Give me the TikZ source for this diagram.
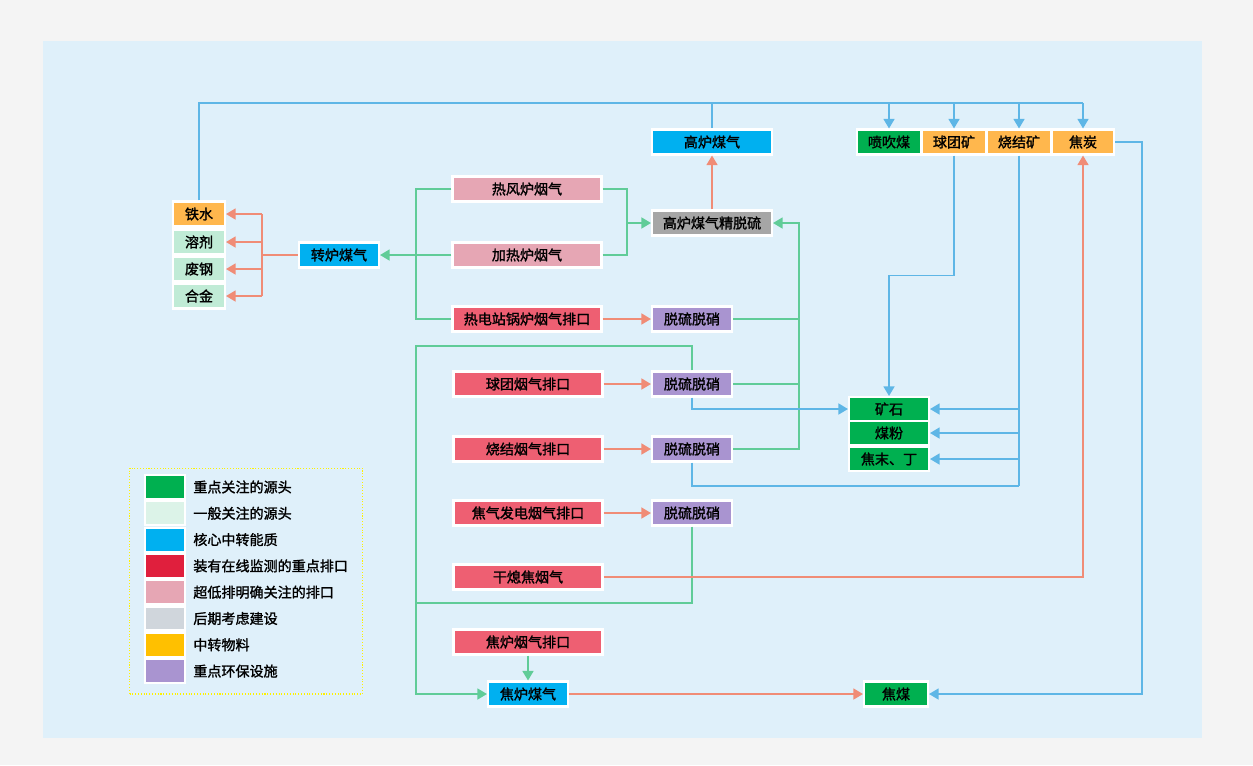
\documentclass[tikz,border=0pt]{standalone}
\usepackage{fontspec}
\setmainfont{Noto Sans CJK SC}[AutoFakeBold=1.5]
\usepackage{xcolor}
\usepackage{tikz}
\usetikzlibrary{arrows.meta,positioning,calc}
\definecolor{pagegray}{RGB}{244,244,244}
\definecolor{panelblue}{RGB}{223,240,250}
\definecolor{keygreen}{RGB}{0,176,80}
\definecolor{mintgreen}{RGB}{192,235,214}
\definecolor{palemint}{RGB}{220,243,232}
\definecolor{corebl}{RGB}{0,176,240}
\definecolor{monred}{RGB}{238,95,114}
\definecolor{legendred}{RGB}{224,31,61}
\definecolor{lowpink}{RGB}{230,166,180}
\definecolor{futuregray}{RGB}{166,166,166}
\definecolor{legendgray}{RGB}{208,214,220}
\definecolor{transorange}{RGB}{255,183,77}
\definecolor{legendorange}{RGB}{255,192,0}
\definecolor{envpurple}{RGB}{169,148,208}
\definecolor{lineblue}{RGB}{94,182,230}
\definecolor{linegreen}{RGB}{96,204,152}
\definecolor{linesalmon}{RGB}{240,140,118}
\tikzset{
    flowbox/.style={
        rectangle,
        draw=white,
        line width=1.2pt,
        minimum height=0.5cm,
        inner sep=0pt,
        text centered,
        font=\bfseries\fontsize{8}{9}\selectfont
    },
    bluepipe/.style={draw=lineblue, line width=0.8pt},
    greenpipe/.style={draw=linegreen, line width=0.8pt},
    salmonpipe/.style={draw=linesalmon, line width=0.8pt},
    flowarrow/.style={-{Triangle[length=1.9mm,width=2.2mm]}}
}

\begin{document}
\begin{tikzpicture}[x=0.02cm, y=-0.02cm]
% background
\fill[pagegray] (0,0) rectangle (1253,765);
\fill[panelblue] (43,41) rectangle (1202,738);

% raw materials on the left
\node[flowbox, fill=transorange, minimum width=1.04cm] (iron) at (199,214) {铁水};
\node[flowbox, fill=mintgreen, minimum width=1.04cm] (flux) at (199,242) {溶剂};
\node[flowbox, fill=mintgreen, minimum width=1.04cm] (scrap) at (199,269) {废钢};
\node[flowbox, fill=mintgreen, minimum width=1.04cm] (alloy) at (199,296) {合金};

% converter gas
\node[flowbox, fill=corebl, minimum width=1.6cm] (bofgas) at (339,255) {转炉煤气};

% flue gases
\node[flowbox, fill=lowpink, minimum width=2.98cm] (hotblast) at (527,189) {热风炉烟气};
\node[flowbox, fill=lowpink, minimum width=2.98cm] (reheat) at (527,255) {加热炉烟气};
\node[flowbox, fill=monred, minimum width=2.98cm] (powerplant) at (527,319) {热电站锅炉烟气排口};
\node[flowbox, fill=monred, minimum width=2.98cm] (pelletflue) at (528,384) {球团烟气排口};
\node[flowbox, fill=monred, minimum width=2.98cm] (sinterflue) at (528,449) {烧结烟气排口};
\node[flowbox, fill=monred, minimum width=2.98cm] (cokepowerflue) at (528,513) {焦气发电烟气排口};
\node[flowbox, fill=monred, minimum width=2.98cm] (cdqflue) at (528,577) {干熄焦烟气};
\node[flowbox, fill=monred, minimum width=2.98cm] (cokeovenflue) at (528,642) {焦炉烟气排口};

% blast furnace gas
\node[flowbox, fill=corebl, minimum width=2.4cm] (bfgas) at (712,142) {高炉煤气};
\node[flowbox, fill=futuregray, minimum width=2.4cm] (bfdesulf) at (712,223) {高炉煤气精脱硫};

% desulfurisation units
\node[flowbox, fill=envpurple, minimum width=1.6cm] (dsdn1) at (692,319) {脱硫脱硝};
\node[flowbox, fill=envpurple, minimum width=1.6cm] (dsdn2) at (692,384) {脱硫脱硝};
\node[flowbox, fill=envpurple, minimum width=1.6cm] (dsdn3) at (692,449) {脱硫脱硝};
\node[flowbox, fill=envpurple, minimum width=1.6cm] (dsdn4) at (692,513) {脱硫脱硝};

% furnace charge
\node[flowbox, fill=keygreen, minimum width=1.28cm] (pci) at (889,142) {喷吹煤};
\node[flowbox, fill=transorange, minimum width=1.28cm] (pellet) at (954,142) {球团矿};
\node[flowbox, fill=transorange, minimum width=1.28cm] (sinter) at (1019,142) {烧结矿};
\node[flowbox, fill=transorange, minimum width=1.24cm] (coke) at (1083,142) {焦炭};

% sources
\node[flowbox, fill=keygreen, minimum width=1.6cm, minimum height=0.48cm] (ore) at (889,409) {矿石};
\node[flowbox, fill=keygreen, minimum width=1.6cm, minimum height=0.48cm] (coalpowder) at (889,433) {煤粉};
\node[flowbox, fill=keygreen, minimum width=1.6cm, minimum height=0.48cm] (cokefines) at (889,459) {焦末、丁};

% coke oven gas
\node[flowbox, fill=corebl, minimum width=1.6cm] (cogas) at (528,694) {焦炉煤气};
\node[flowbox, fill=keygreen, minimum width=1.28cm] (cokingcoal) at (896,694) {焦煤};

% helper points
\coordinate (topbus) at (199,103);
\coordinate (gjoin) at (627,223);
\coordinate (lgreen) at (416,255);
\coordinate (lsalmon) at (262,255);
\coordinate (rgreen) at (799,223);
\coordinate (lgreentop) at (416,346);
\coordinate (lgreenlow) at (416,603);
\coordinate (sinterbus) at (1019,486);

% top blue bus
\draw[bluepipe] (iron.north) -- (topbus) -- (coke.north |- topbus);
\draw[bluepipe] (bfgas.north |- topbus) -- (bfgas.north);
\foreach \n in {pci,pellet,sinter,coke}
    \draw[bluepipe, flowarrow] (\n.north |- topbus) -- (\n.north);

% converter gas to raw materials
\draw[salmonpipe] (bofgas.west) -- (lsalmon);
\draw[salmonpipe] (lsalmon |- iron.east) -- (lsalmon |- alloy.east);
\foreach \n in {iron,flux,scrap,alloy}
    \draw[salmonpipe, flowarrow] (lsalmon |- \n.east) -- (\n.east);

% flue gases into converter gas and fine desulfurisation
\draw[greenpipe] (hotblast.west) -| (lgreen) |- (powerplant.west);
\draw[greenpipe, flowarrow] (reheat.west) -- (bofgas.east);
\draw[greenpipe] (hotblast.east) -| (gjoin);
\draw[greenpipe] (reheat.east) -| (gjoin);
\draw[greenpipe, flowarrow] (gjoin) -- (bfdesulf.west);
\draw[salmonpipe, flowarrow] (bfdesulf.north) -- (bfgas.south);

% flue gases into desulfurisation
\draw[salmonpipe, flowarrow] (powerplant.east) -- (dsdn1.west);
\draw[salmonpipe, flowarrow] (pelletflue.east) -- (dsdn2.west);
\draw[salmonpipe, flowarrow] (sinterflue.east) -- (dsdn3.west);
\draw[salmonpipe, flowarrow] (cokepowerflue.east) -- (dsdn4.west);

% desulfurisation back to blast furnace gas
\draw[greenpipe, flowarrow] (dsdn3.east) -| (rgreen) -- (bfdesulf.east);
\draw[greenpipe] (dsdn1.east) -- (rgreen |- dsdn1.east);
\draw[greenpipe] (dsdn2.east) -- (rgreen |- dsdn2.east);

% desulfurisation to coke oven gas
\draw[greenpipe, flowarrow] (dsdn2.north) |- (lgreentop) |- (cogas.west);
\draw[greenpipe] (dsdn4.south) |- (lgreenlow);
\draw[greenpipe, flowarrow] (cokeovenflue.south) -- (cogas.north);
\draw[salmonpipe, flowarrow] (cogas.east) -- (cokingcoal.west);

% sources
\draw[bluepipe, flowarrow] (dsdn2.south) |- (ore.west);
\draw[bluepipe] (dsdn3.south) |- (sinterbus);
\draw[bluepipe] (sinter.south) -- (sinterbus);
\foreach \n in {ore,coalpowder,cokefines}
    \draw[bluepipe, flowarrow] (sinter.south |- \n.east) -- (\n.east);
\draw[bluepipe, flowarrow] (pellet.south) -- ++(0,120) -| (ore.north);
\draw[bluepipe, flowarrow] (coke.east) -- ++(27,0) |- (cokingcoal.east);
\draw[salmonpipe, flowarrow] (cdqflue.east) -| (coke.south);

% legend
\node[draw=yellow, densely dotted, line width=0.6pt, minimum width=4.66cm, minimum height=4.52cm] (legend) at (246,581) {};
\foreach \c/\t [count=\i] in {keygreen/重点关注的源头, palemint/一般关注的源头, corebl/核心中转能质, legendred/装有在线监测的重点排口, lowpink/超低排明确关注的排口, legendgray/后期考虑建设, legendorange/中转物料, envpurple/重点环保设施} {
    \node[flowbox, fill=\c, minimum width=0.8cm, minimum height=0.48cm] (key\i) at (165,{487+(\i-1)*26.3}) {};
    \node[font=\bfseries\fontsize{8}{9}\selectfont, anchor=west, inner sep=0pt] (keytext\i) at (193,{487+(\i-1)*26.3}) {\t};
}
\end{tikzpicture}
\end{document}
